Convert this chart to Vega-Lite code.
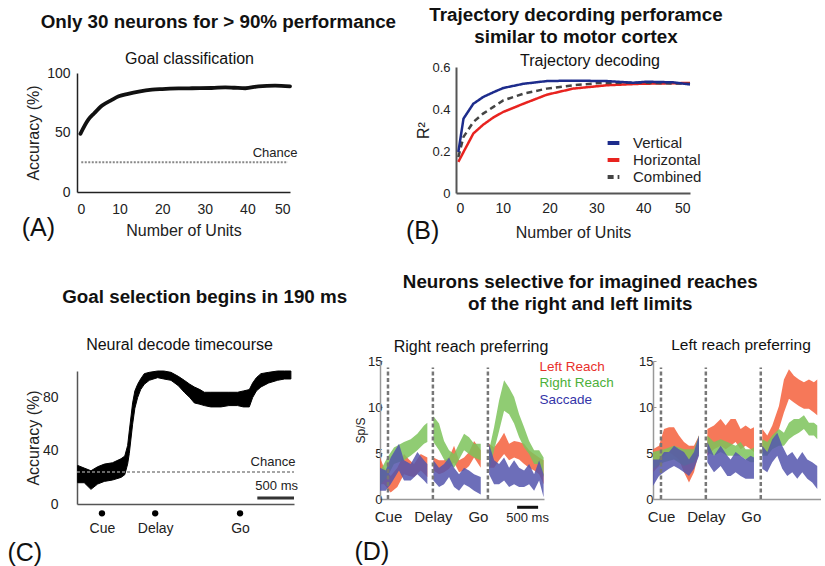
{
  "$schema": "https://vega.github.io/schema/vega-lite/v6.json",
  "padding": {"left": 7, "top": 6, "right": 0, "bottom": 0},
  "config": {
    "font": "Liberation Sans",
    "view": {"stroke": null},
    "axis": {"grid": false, "labelFont": "Liberation Sans", "titleFont": "Liberation Sans", "labelFontSize": 14, "titleFontSize": 16, "titleFontWeight": "normal", "labelColor": "#222", "titleColor": "#222", "domainColor": "#222", "tickColor": "#222", "labelOverlap": false},
    "title": {"font": "Liberation Sans", "color": "#111"},
    "legend": {"labelFont": "Liberation Sans", "padding": 0}
  },
  "datasets": {
    "dev": [{"t": 190}, {"t": 1258}, {"t": 2566}],
    "dband": [
      {"p":"R","c":"Left Reach","s":1,"t":0,"lo":1.6,"hi":4.5},
      {"p":"R","c":"Left Reach","s":1,"t":95,"lo":1.6,"hi":3.4},
      {"p":"R","c":"Left Reach","s":1,"t":254,"lo":0.7,"hi":2.5},
      {"p":"R","c":"Left Reach","s":1,"t":412,"lo":1.3,"hi":3.4},
      {"p":"R","c":"Left Reach","s":1,"t":571,"lo":2.7,"hi":4.9},
      {"p":"R","c":"Left Reach","s":1,"t":690,"lo":2.5,"hi":4.3},
      {"p":"R","c":"Left Reach","s":1,"t":809,"lo":2.4,"hi":3.8},
      {"p":"R","c":"Left Reach","s":1,"t":968,"lo":3.1,"hi":4.9},
      {"p":"R","c":"Left Reach","s":1,"t":1126,"lo":2.4,"hi":4.5},
      {"p":"R","c":"Left Reach","s":2,"t":1270,"lo":3.1,"hi":4.5},
      {"p":"R","c":"Left Reach","s":2,"t":1404,"lo":2.7,"hi":4.2},
      {"p":"R","c":"Left Reach","s":2,"t":1523,"lo":2.9,"hi":4.2},
      {"p":"R","c":"Left Reach","s":2,"t":1642,"lo":3.3,"hi":4.5},
      {"p":"R","c":"Left Reach","s":2,"t":1761,"lo":4.0,"hi":5.8},
      {"p":"R","c":"Left Reach","s":2,"t":1880,"lo":2.9,"hi":4.2},
      {"p":"R","c":"Left Reach","s":2,"t":1999,"lo":3.1,"hi":4.5},
      {"p":"R","c":"Left Reach","s":2,"t":2118,"lo":3.6,"hi":5.1},
      {"p":"R","c":"Left Reach","s":2,"t":2237,"lo":4.5,"hi":6.3},
      {"p":"R","c":"Left Reach","s":2,"t":2396,"lo":3.4,"hi":5.3},
      {"p":"R","c":"Left Reach","s":3,"t":2594,"lo":3.4,"hi":6.0},
      {"p":"R","c":"Left Reach","s":3,"t":2713,"lo":3.4,"hi":5.6},
      {"p":"R","c":"Left Reach","s":3,"t":2832,"lo":4.2,"hi":6.3},
      {"p":"R","c":"Left Reach","s":3,"t":2951,"lo":4.9,"hi":7.2},
      {"p":"R","c":"Left Reach","s":3,"t":3070,"lo":4.2,"hi":6.0},
      {"p":"R","c":"Left Reach","s":3,"t":3189,"lo":4.5,"hi":6.3},
      {"p":"R","c":"Left Reach","s":3,"t":3308,"lo":4.3,"hi":6.2},
      {"p":"R","c":"Left Reach","s":3,"t":3427,"lo":3.8,"hi":6.0},
      {"p":"R","c":"Left Reach","s":3,"t":3546,"lo":3.4,"hi":5.3},
      {"p":"R","c":"Left Reach","s":3,"t":3665,"lo":3.1,"hi":4.9},
      {"p":"R","c":"Left Reach","s":3,"t":3784,"lo":2.7,"hi":4.5},
      {"p":"R","c":"Left Reach","s":3,"t":3890,"lo":1.6,"hi":4.2},
      {"p":"R","c":"Right Reach","s":1,"t":0,"lo":1.5,"hi":3.0},
      {"p":"R","c":"Right Reach","s":1,"t":174,"lo":2.4,"hi":4.5},
      {"p":"R","c":"Right Reach","s":1,"t":333,"lo":3.8,"hi":5.6},
      {"p":"R","c":"Right Reach","s":1,"t":571,"lo":4.2,"hi":6.2},
      {"p":"R","c":"Right Reach","s":1,"t":730,"lo":4.7,"hi":6.5},
      {"p":"R","c":"Right Reach","s":1,"t":888,"lo":5.3,"hi":7.1},
      {"p":"R","c":"Right Reach","s":1,"t":1047,"lo":6.0,"hi":8.0},
      {"p":"R","c":"Right Reach","s":1,"t":1126,"lo":6.2,"hi":8.3},
      {"p":"R","c":"Right Reach","s":2,"t":1270,"lo":6.2,"hi":9.0},
      {"p":"R","c":"Right Reach","s":2,"t":1404,"lo":5.3,"hi":8.2},
      {"p":"R","c":"Right Reach","s":2,"t":1523,"lo":4.3,"hi":6.3},
      {"p":"R","c":"Right Reach","s":2,"t":1642,"lo":3.8,"hi":5.3},
      {"p":"R","c":"Right Reach","s":2,"t":1761,"lo":3.4,"hi":4.9},
      {"p":"R","c":"Right Reach","s":2,"t":1880,"lo":4.3,"hi":6.0},
      {"p":"R","c":"Right Reach","s":2,"t":1999,"lo":5.3,"hi":7.1},
      {"p":"R","c":"Right Reach","s":2,"t":2118,"lo":4.9,"hi":6.7},
      {"p":"R","c":"Right Reach","s":2,"t":2237,"lo":4.5,"hi":6.0},
      {"p":"R","c":"Right Reach","s":2,"t":2396,"lo":4.2,"hi":6.0},
      {"p":"R","c":"Right Reach","s":3,"t":2594,"lo":3.1,"hi":5.3},
      {"p":"R","c":"Right Reach","s":3,"t":2713,"lo":5.3,"hi":7.8},
      {"p":"R","c":"Right Reach","s":3,"t":2832,"lo":7.4,"hi":10.7},
      {"p":"R","c":"Right Reach","s":3,"t":2951,"lo":9.6,"hi":12.9},
      {"p":"R","c":"Right Reach","s":3,"t":3070,"lo":9.2,"hi":12.1},
      {"p":"R","c":"Right Reach","s":3,"t":3189,"lo":8.2,"hi":11.1},
      {"p":"R","c":"Right Reach","s":3,"t":3308,"lo":6.7,"hi":9.2},
      {"p":"R","c":"Right Reach","s":3,"t":3427,"lo":5.6,"hi":7.8},
      {"p":"R","c":"Right Reach","s":3,"t":3546,"lo":4.9,"hi":6.3},
      {"p":"R","c":"Right Reach","s":3,"t":3665,"lo":3.8,"hi":5.3},
      {"p":"R","c":"Right Reach","s":3,"t":3784,"lo":3.8,"hi":5.3},
      {"p":"R","c":"Right Reach","s":3,"t":3890,"lo":2.4,"hi":4.5},
      {"p":"R","c":"Saccade","s":1,"t":0,"lo":0.9,"hi":3.4},
      {"p":"R","c":"Saccade","s":1,"t":135,"lo":0.9,"hi":3.1},
      {"p":"R","c":"Saccade","s":1,"t":254,"lo":1.6,"hi":4.5},
      {"p":"R","c":"Saccade","s":1,"t":452,"lo":3.1,"hi":6.0},
      {"p":"R","c":"Saccade","s":1,"t":571,"lo":2.0,"hi":4.2},
      {"p":"R","c":"Saccade","s":1,"t":730,"lo":2.0,"hi":3.8},
      {"p":"R","c":"Saccade","s":1,"t":888,"lo":2.7,"hi":5.1},
      {"p":"R","c":"Saccade","s":1,"t":1047,"lo":2.0,"hi":4.2},
      {"p":"R","c":"Saccade","s":1,"t":1126,"lo":1.6,"hi":3.8},
      {"p":"R","c":"Saccade","s":2,"t":1270,"lo":2.0,"hi":4.2},
      {"p":"R","c":"Saccade","s":2,"t":1404,"lo":1.3,"hi":3.4},
      {"p":"R","c":"Saccade","s":2,"t":1523,"lo":1.6,"hi":3.8},
      {"p":"R","c":"Saccade","s":2,"t":1642,"lo":2.4,"hi":4.5},
      {"p":"R","c":"Saccade","s":2,"t":1761,"lo":1.3,"hi":3.4},
      {"p":"R","c":"Saccade","s":2,"t":1880,"lo":0.9,"hi":2.7},
      {"p":"R","c":"Saccade","s":2,"t":1999,"lo":1.6,"hi":3.4},
      {"p":"R","c":"Saccade","s":2,"t":2118,"lo":1.3,"hi":3.1},
      {"p":"R","c":"Saccade","s":2,"t":2237,"lo":0.9,"hi":2.7},
      {"p":"R","c":"Saccade","s":2,"t":2396,"lo":0.5,"hi":2.4},
      {"p":"R","c":"Saccade","s":3,"t":2594,"lo":2.7,"hi":6.0},
      {"p":"R","c":"Saccade","s":3,"t":2713,"lo":1.6,"hi":4.2},
      {"p":"R","c":"Saccade","s":3,"t":2832,"lo":1.6,"hi":3.8},
      {"p":"R","c":"Saccade","s":3,"t":2951,"lo":2.0,"hi":4.5},
      {"p":"R","c":"Saccade","s":3,"t":3070,"lo":1.3,"hi":3.4},
      {"p":"R","c":"Saccade","s":3,"t":3189,"lo":1.6,"hi":4.2},
      {"p":"R","c":"Saccade","s":3,"t":3308,"lo":1.3,"hi":3.4},
      {"p":"R","c":"Saccade","s":3,"t":3427,"lo":1.3,"hi":3.1},
      {"p":"R","c":"Saccade","s":3,"t":3546,"lo":1.6,"hi":3.8},
      {"p":"R","c":"Saccade","s":3,"t":3665,"lo":0.9,"hi":2.7},
      {"p":"R","c":"Saccade","s":3,"t":3784,"lo":2.0,"hi":4.2},
      {"p":"R","c":"Saccade","s":3,"t":3890,"lo":0.2,"hi":2.7},
      {"p":"L","c":"Left Reach","s":1,"t":0,"lo":2.9,"hi":5.4},
      {"p":"L","c":"Left Reach","s":1,"t":143,"lo":3.6,"hi":5.8},
      {"p":"L","c":"Left Reach","s":1,"t":262,"lo":4.7,"hi":7.6},
      {"p":"L","c":"Left Reach","s":1,"t":381,"lo":5.1,"hi":7.8},
      {"p":"L","c":"Left Reach","s":1,"t":500,"lo":4.7,"hi":7.8},
      {"p":"L","c":"Left Reach","s":1,"t":619,"lo":4.3,"hi":6.9},
      {"p":"L","c":"Left Reach","s":1,"t":738,"lo":2.9,"hi":6.2},
      {"p":"L","c":"Left Reach","s":1,"t":857,"lo":1.8,"hi":5.8},
      {"p":"L","c":"Left Reach","s":1,"t":976,"lo":2.9,"hi":5.8},
      {"p":"L","c":"Left Reach","s":1,"t":1095,"lo":5.1,"hi":6.9},
      {"p":"L","c":"Left Reach","s":2,"t":1294,"lo":4.7,"hi":7.6},
      {"p":"L","c":"Left Reach","s":2,"t":1452,"lo":5.4,"hi":8.0},
      {"p":"L","c":"Left Reach","s":2,"t":1611,"lo":5.8,"hi":8.7},
      {"p":"L","c":"Left Reach","s":2,"t":1730,"lo":5.4,"hi":8.0},
      {"p":"L","c":"Left Reach","s":2,"t":1849,"lo":5.8,"hi":8.7},
      {"p":"L","c":"Left Reach","s":2,"t":1967,"lo":6.2,"hi":8.7},
      {"p":"L","c":"Left Reach","s":2,"t":2086,"lo":5.4,"hi":7.6},
      {"p":"L","c":"Left Reach","s":2,"t":2205,"lo":5.8,"hi":8.0},
      {"p":"L","c":"Left Reach","s":2,"t":2324,"lo":5.4,"hi":7.6},
      {"p":"L","c":"Left Reach","s":2,"t":2404,"lo":5.1,"hi":7.8},
      {"p":"L","c":"Left Reach","s":3,"t":2602,"lo":5.1,"hi":7.6},
      {"p":"L","c":"Left Reach","s":3,"t":2721,"lo":4.7,"hi":6.9},
      {"p":"L","c":"Left Reach","s":3,"t":2840,"lo":6.2,"hi":8.0},
      {"p":"L","c":"Left Reach","s":3,"t":2999,"lo":7.6,"hi":10.1},
      {"p":"L","c":"Left Reach","s":3,"t":3118,"lo":9.4,"hi":13.0},
      {"p":"L","c":"Left Reach","s":3,"t":3237,"lo":10.9,"hi":14.1},
      {"p":"L","c":"Left Reach","s":3,"t":3356,"lo":10.5,"hi":13.4},
      {"p":"L","c":"Left Reach","s":3,"t":3475,"lo":10.1,"hi":13.0},
      {"p":"L","c":"Left Reach","s":3,"t":3594,"lo":9.8,"hi":12.7},
      {"p":"L","c":"Left Reach","s":3,"t":3713,"lo":9.8,"hi":13.0},
      {"p":"L","c":"Left Reach","s":3,"t":3832,"lo":9.4,"hi":12.7},
      {"p":"L","c":"Left Reach","s":3,"t":3911,"lo":9.1,"hi":13.0},
      {"p":"L","c":"Right Reach","s":1,"t":0,"lo":3.3,"hi":5.1},
      {"p":"L","c":"Right Reach","s":1,"t":262,"lo":4.0,"hi":5.4},
      {"p":"L","c":"Right Reach","s":1,"t":500,"lo":4.3,"hi":5.8},
      {"p":"L","c":"Right Reach","s":1,"t":738,"lo":3.6,"hi":5.4},
      {"p":"L","c":"Right Reach","s":1,"t":976,"lo":4.0,"hi":5.4},
      {"p":"L","c":"Right Reach","s":1,"t":1095,"lo":5.1,"hi":6.9},
      {"p":"L","c":"Right Reach","s":2,"t":1294,"lo":5.1,"hi":6.9},
      {"p":"L","c":"Right Reach","s":2,"t":1452,"lo":4.7,"hi":6.2},
      {"p":"L","c":"Right Reach","s":2,"t":1611,"lo":5.1,"hi":6.5},
      {"p":"L","c":"Right Reach","s":2,"t":1770,"lo":4.7,"hi":6.2},
      {"p":"L","c":"Right Reach","s":2,"t":1967,"lo":4.7,"hi":5.8},
      {"p":"L","c":"Right Reach","s":2,"t":2086,"lo":4.7,"hi":6.2},
      {"p":"L","c":"Right Reach","s":2,"t":2205,"lo":4.3,"hi":5.4},
      {"p":"L","c":"Right Reach","s":2,"t":2324,"lo":4.0,"hi":5.4},
      {"p":"L","c":"Right Reach","s":2,"t":2404,"lo":4.0,"hi":5.6},
      {"p":"L","c":"Right Reach","s":3,"t":2602,"lo":4.7,"hi":6.5},
      {"p":"L","c":"Right Reach","s":3,"t":2721,"lo":4.7,"hi":6.2},
      {"p":"L","c":"Right Reach","s":3,"t":2840,"lo":5.4,"hi":6.9},
      {"p":"L","c":"Right Reach","s":3,"t":2999,"lo":5.8,"hi":7.6},
      {"p":"L","c":"Right Reach","s":3,"t":3118,"lo":5.8,"hi":7.2},
      {"p":"L","c":"Right Reach","s":3,"t":3237,"lo":6.5,"hi":8.3},
      {"p":"L","c":"Right Reach","s":3,"t":3356,"lo":6.9,"hi":8.7},
      {"p":"L","c":"Right Reach","s":3,"t":3475,"lo":7.2,"hi":8.7},
      {"p":"L","c":"Right Reach","s":3,"t":3594,"lo":7.6,"hi":9.1},
      {"p":"L","c":"Right Reach","s":3,"t":3713,"lo":6.9,"hi":8.3},
      {"p":"L","c":"Right Reach","s":3,"t":3832,"lo":6.9,"hi":8.3},
      {"p":"L","c":"Right Reach","s":3,"t":3911,"lo":6.5,"hi":8.0},
      {"p":"L","c":"Saccade","s":1,"t":0,"lo":1.4,"hi":4.3},
      {"p":"L","c":"Saccade","s":1,"t":143,"lo":2.5,"hi":4.3},
      {"p":"L","c":"Saccade","s":1,"t":262,"lo":2.9,"hi":5.1},
      {"p":"L","c":"Saccade","s":1,"t":381,"lo":3.3,"hi":5.1},
      {"p":"L","c":"Saccade","s":1,"t":500,"lo":3.6,"hi":5.8},
      {"p":"L","c":"Saccade","s":1,"t":619,"lo":3.3,"hi":5.4},
      {"p":"L","c":"Saccade","s":1,"t":738,"lo":2.9,"hi":5.1},
      {"p":"L","c":"Saccade","s":1,"t":857,"lo":2.5,"hi":4.3},
      {"p":"L","c":"Saccade","s":1,"t":976,"lo":3.3,"hi":5.1},
      {"p":"L","c":"Saccade","s":1,"t":1095,"lo":4.7,"hi":6.9},
      {"p":"L","c":"Saccade","s":2,"t":1294,"lo":4.0,"hi":6.2},
      {"p":"L","c":"Saccade","s":2,"t":1452,"lo":2.9,"hi":4.7},
      {"p":"L","c":"Saccade","s":2,"t":1611,"lo":3.6,"hi":5.8},
      {"p":"L","c":"Saccade","s":2,"t":1770,"lo":2.5,"hi":4.7},
      {"p":"L","c":"Saccade","s":2,"t":1848,"lo":2.5,"hi":4.3},
      {"p":"L","c":"Saccade","s":2,"t":1967,"lo":2.9,"hi":5.1},
      {"p":"L","c":"Saccade","s":2,"t":2086,"lo":2.5,"hi":4.7},
      {"p":"L","c":"Saccade","s":2,"t":2205,"lo":2.2,"hi":4.3},
      {"p":"L","c":"Saccade","s":2,"t":2324,"lo":2.2,"hi":4.7},
      {"p":"L","c":"Saccade","s":2,"t":2404,"lo":2.2,"hi":4.5},
      {"p":"L","c":"Saccade","s":3,"t":2602,"lo":3.3,"hi":5.8},
      {"p":"L","c":"Saccade","s":3,"t":2721,"lo":2.9,"hi":5.1},
      {"p":"L","c":"Saccade","s":3,"t":2840,"lo":4.0,"hi":6.5},
      {"p":"L","c":"Saccade","s":3,"t":2959,"lo":4.7,"hi":7.2},
      {"p":"L","c":"Saccade","s":3,"t":3078,"lo":3.3,"hi":5.8},
      {"p":"L","c":"Saccade","s":3,"t":3197,"lo":2.5,"hi":4.7},
      {"p":"L","c":"Saccade","s":3,"t":3316,"lo":2.9,"hi":5.1},
      {"p":"L","c":"Saccade","s":3,"t":3435,"lo":2.2,"hi":4.3},
      {"p":"L","c":"Saccade","s":3,"t":3554,"lo":2.9,"hi":5.1},
      {"p":"L","c":"Saccade","s":3,"t":3673,"lo":2.2,"hi":4.3},
      {"p":"L","c":"Saccade","s":3,"t":3792,"lo":1.8,"hi":4.0},
      {"p":"L","c":"Saccade","s":3,"t":3911,"lo":1.1,"hi":3.6}
    ]
  },
  "spacing": 29,
  "align": "none",
  "resolve": {"scale": {"color": "independent", "strokeDash": "independent"}, "legend": {"color": "independent", "strokeDash": "independent"}},
  "vconcat": [
    {
      "spacing": 8,
      "align": "none",
      "resolve": {"scale": {"color": "independent", "strokeDash": "independent"}, "legend": {"color": "independent", "strokeDash": "independent"}},
      "hconcat": [
        {
          "title": {"text": "Only 30 neurons for > 90% performance", "fontSize": 18.8, "fontWeight": "bold", "anchor": "start", "dx": 19, "offset": 19},
          "spacing": -2,
          "vconcat": [
            {
              "width": 213, "height": 1,
              "title": {"text": "Goal classification", "fontSize": 16, "fontWeight": "normal", "offset": 0, "frame": "group", "dx": 6},
              "data": {"values": []},
              "mark": "point"
            },
            {
              "title": {"text": "(A)", "orient": "bottom", "anchor": "start", "fontSize": 25, "fontWeight": "normal", "dy": -26, "dx": -4},
              "vconcat": [
                {
                  "width": 213, "height": 119,
                  "layer": [
                    {
                      "data": {"values": [
                        {"n":0.8,"acc":48.9},{"n":2.7,"acc":61},{"n":4,"acc":66},{"n":5.9,"acc":72.6},{"n":8,"acc":77},{"n":9.8,"acc":80.4},{"n":12,"acc":82.5},{"n":14.5,"acc":84.4},{"n":17.6,"acc":86},{"n":20,"acc":86.5},{"n":23.8,"acc":87},{"n":27,"acc":87.2},{"n":31.6,"acc":87.4},{"n":34.8,"acc":88},{"n":37,"acc":87.6},{"n":39.5,"acc":87.2},{"n":42.6,"acc":88.8},{"n":46.5,"acc":89.4},{"n":50,"acc":88.8}
                      ]},
                      "mark": {"type": "line", "color": "#111", "strokeWidth": 3.8, "strokeCap": "round", "interpolate": "monotone"},
                      "encoding": {
                        "x": {"field": "n", "type": "quantitative", "scale": {"domain": [0, 50], "nice": false}, "axis": {"values": [0,10,20,30,40,50], "title": "Number of Units", "ticks": false, "labelPadding": 10, "domainWidth": 1.5, "titlePadding": 6, "labelOverlap": false}},
                        "y": {"field": "acc", "type": "quantitative", "scale": {"domain": [0, 100], "nice": false}, "axis": {"values": [0,50,100], "title": "Accuracy (%)", "ticks": false, "labelPadding": 7, "domainWidth": 1.5, "titlePadding": 5, "labelOverlap": false}}
                      }
                    },
                    {
                      "data": {"values": [{"a": 1, "b": 49.5, "v": 25}]},
                      "mark": {"type": "rule", "color": "#888", "strokeDash": [2, 1.5], "strokeWidth": 2},
                      "encoding": {"x": {"field": "a", "type": "quantitative"}, "x2": {"field": "b"}, "y": {"field": "v", "type": "quantitative"}}
                    },
                    {
                      "data": {"values": [{"n": 46.5, "v": 27, "txt": "Chance"}]},
                      "mark": {"type": "text", "fontSize": 13, "baseline": "bottom", "color": "#222"},
                      "encoding": {"x": {"field": "n", "type": "quantitative"}, "y": {"field": "v", "type": "quantitative"}, "text": {"field": "txt"}}
                    }
                  ]
                }
              ]
            }
          ]
        },
        {
          "title": {"text": ["Trajectory decording perforamce", "similar to motor cortex"], "fontSize": 18.8, "fontWeight": "bold", "anchor": "middle", "dx": 22, "lineHeight": 22, "offset": 5.5},
          "resolve": {"scale": {"color": "independent", "strokeDash": "independent"}, "legend": {"color": "independent", "strokeDash": "independent"}},
          "vconcat": [
            {
              "title": {"text": "(B)", "orient": "bottom", "anchor": "start", "fontSize": 25, "fontWeight": "normal", "dy": -25, "dx": -10},
              "resolve": {"scale": {"color": "independent", "strokeDash": "independent"}, "legend": {"color": "independent", "strokeDash": "independent"}},
              "vconcat": [
                {
                  "width": 234, "height": 126,
                  "title": {"text": "Trajectory decoding", "fontSize": 16, "fontWeight": "normal", "offset": -7.5, "frame": "group", "dx": 17},
                  "data": {"values": [
                    {"s":"Horizontal","n":0.5,"r":0.148},{"s":"Horizontal","n":1.6,"r":0.195},{"s":"Horizontal","n":3.7,"r":0.283},{"s":"Horizontal","n":5.8,"r":0.325},{"s":"Horizontal","n":8,"r":0.36},{"s":"Horizontal","n":10.1,"r":0.386},{"s":"Horizontal","n":14.4,"r":0.425},{"s":"Horizontal","n":19.4,"r":0.468},{"s":"Horizontal","n":25,"r":0.497},{"s":"Horizontal","n":32.2,"r":0.513},{"s":"Horizontal","n":39.3,"r":0.52},{"s":"Horizontal","n":50,"r":0.524},
                    {"s":"Combined","n":0.5,"r":0.171},{"s":"Combined","n":1.6,"r":0.267},{"s":"Combined","n":3.7,"r":0.338},{"s":"Combined","n":5.8,"r":0.378},{"s":"Combined","n":8,"r":0.41},{"s":"Combined","n":10.1,"r":0.441},{"s":"Combined","n":14.4,"r":0.473},{"s":"Combined","n":19.4,"r":0.497},{"s":"Combined","n":25,"r":0.513},{"s":"Combined","n":30.8,"r":0.524},{"s":"Combined","n":40,"r":0.525},{"s":"Combined","n":50,"r":0.52},
                    {"s":"Vertical","n":0.5,"r":0.195},{"s":"Vertical","n":1.6,"r":0.354},{"s":"Vertical","n":3.7,"r":0.425},{"s":"Vertical","n":5.8,"r":0.457},{"s":"Vertical","n":8,"r":0.48},{"s":"Vertical","n":10.1,"r":0.5},{"s":"Vertical","n":14.4,"r":0.52},{"s":"Vertical","n":19.4,"r":0.533},{"s":"Vertical","n":25,"r":0.535},{"s":"Vertical","n":32.2,"r":0.533},{"s":"Vertical","n":37.9,"r":0.525},{"s":"Vertical","n":40.7,"r":0.53},{"s":"Vertical","n":46.4,"r":0.527},{"s":"Vertical","n":50,"r":0.517}
                  ]},
                  "mark": {"type": "line", "strokeWidth": 2.5},
                  "encoding": {
                    "x": {"field": "n", "type": "quantitative", "scale": {"domain": [0, 50], "nice": false}, "axis": {"values": [0,10,20,30,40,50], "title": "Number of Units", "ticks": false, "labelPadding": 8, "domainWidth": 2, "domainColor": "#555", "titlePadding": 9, "labelOverlap": false}},
                    "y": {"field": "r", "type": "quantitative", "scale": {"domain": [0, 0.6], "nice": false}, "axis": {"values": [0,0.2,0.4,0.6], "format": "~g", "title": "R²", "labelFontSize": 13, "ticks": false, "labelPadding": 6, "domainWidth": 2, "domainColor": "#555", "titlePadding": 0, "labelOverlap": false}},
                    "color": {"field": "s", "type": "nominal", "scale": {"domain": ["Vertical", "Horizontal", "Combined"], "range": ["#1d2c8c", "#e8231f", "#444444"]}, "legend": {"title": null, "orient": "none", "legendX": 149, "legendY": 67.5, "symbolType": "M-0.96,0H0.96", "symbolSize": 150, "symbolStrokeWidth": 4, "labelFontSize": 15, "labelColor": "#222", "rowPadding": 0, "labelOffset": 11}},
                    "strokeDash": {"field": "s", "type": "nominal", "scale": {"domain": ["Vertical", "Horizontal", "Combined"], "range": [[1, 0], [1, 0], [6, 4]]}, "legend": {"title": null, "orient": "none", "legendX": 149, "legendY": 67.5, "symbolType": "M-0.96,0H0.96", "symbolSize": 150, "symbolStrokeWidth": 4, "labelFontSize": 15, "labelColor": "#222", "rowPadding": 0, "labelOffset": 11}}
                  }
                }
              ]
            }
          ]
        }
      ]
    },
    {
      "spacing": 6,
      "align": "none",
      "resolve": {"scale": {"color": "independent", "strokeDash": "independent"}, "legend": {"color": "independent", "strokeDash": "independent"}},
      "hconcat": [
        {
          "title": {"text": "Goal selection begins in 190 ms", "fontSize": 18.8, "fontWeight": "bold", "anchor": "middle", "dx": 52, "offset": 30.5},
          "spacing": 7,
          "vconcat": [
            {
              "width": 217, "height": 1,
              "title": {"text": "Neural decode timecourse", "fontSize": 16, "fontWeight": "normal", "offset": 8, "frame": "group", "dx": -6},
              "data": {"values": []},
              "mark": "point"
            },
            {
              "title": {"text": "(C)", "orient": "bottom", "anchor": "start", "fontSize": 25, "fontWeight": "normal", "dy": 2, "dx": -18},
              "vconcat": [
                {
                  "width": 217, "height": 133,
                  "layer": [
                    {
                      "data": {"values": [
                        {"t":9,"lo":16,"hi":29},{"t":100,"lo":16,"hi":27},{"t":193,"lo":11,"hi":25},{"t":285,"lo":15,"hi":28},{"t":378,"lo":17,"hi":30},{"t":490,"lo":18,"hi":31},{"t":608,"lo":20,"hi":34},{"t":660,"lo":22,"hi":36},{"t":700,"lo":30,"hi":44},{"t":723,"lo":38,"hi":55},{"t":769,"lo":60,"hi":76},{"t":800,"lo":72,"hi":85},{"t":838,"lo":80,"hi":90},{"t":880,"lo":86,"hi":94},{"t":930,"lo":90,"hi":98},{"t":1000,"lo":93,"hi":99},{"t":1115,"lo":95,"hi":100},{"t":1200,"lo":94,"hi":100},{"t":1299,"lo":93,"hi":99},{"t":1400,"lo":89,"hi":96},{"t":1483,"lo":84,"hi":93},{"t":1560,"lo":80,"hi":90},{"t":1622,"lo":76,"hi":88},{"t":1700,"lo":75,"hi":86},{"t":1760,"lo":74,"hi":84},{"t":1850,"lo":73,"hi":84},{"t":1990,"lo":73,"hi":84},{"t":2100,"lo":74,"hi":84},{"t":2220,"lo":74,"hi":84},{"t":2300,"lo":73,"hi":85},{"t":2382,"lo":73,"hi":86},{"t":2428,"lo":80,"hi":91},{"t":2480,"lo":85,"hi":95},{"t":2543,"lo":88,"hi":98},{"t":2650,"lo":91,"hi":99},{"t":2773,"lo":93,"hi":100},{"t":2870,"lo":94,"hi":100},{"t":2957,"lo":94,"hi":100}
                      ]},
                      "mark": {"type": "area", "color": "#000", "stroke": "#000", "strokeWidth": 1},
                      "encoding": {
                        "x": {"field": "t", "type": "quantitative", "scale": {"domain": [0, 3000], "nice": false}, "axis": {"values": [345, 1081, 2254], "labelExpr": "datum.value < 600 ? 'Cue' : datum.value < 1500 ? 'Delay' : 'Go'", "ticks": false, "title": null, "labelPadding": 17, "labelFlush": false, "labelOverlap": false, "domainWidth": 1.5, "domainColor": "#555"}},
                        "y": {"field": "hi", "type": "quantitative", "scale": {"domain": [0, 100], "nice": false}, "axis": {"values": [0,20,40,60,80,100], "title": "Accuracy (%)", "ticks": false, "labelPadding": 19, "labelOverlap": false, "labelFlush": false, "domainWidth": 1.5, "domainColor": "#555", "titlePadding": 1}},
                        "y2": {"field": "lo"}
                      }
                    },
                    {
                      "data": {"values": [{"a": 0, "b": 3000, "v": 24}]},
                      "mark": {"type": "rule", "color": "#888", "strokeDash": [3, 2], "strokeWidth": 1.5},
                      "encoding": {"x": {"field": "a", "type": "quantitative"}, "x2": {"field": "b"}, "y": {"field": "v", "type": "quantitative"}}
                    },
                    {
                      "data": {"values": [{"a": 2493, "b": 3000, "v": 4.5}]},
                      "mark": {"type": "rule", "color": "#333", "strokeWidth": 3},
                      "encoding": {"x": {"field": "a", "type": "quantitative"}, "x2": {"field": "b"}, "y": {"field": "v", "type": "quantitative"}}
                    },
                    {
                      "data": {"values": [{"t": 2710, "v": 26.5, "txt": "Chance"}, {"t": 2760, "v": 8, "txt": "500 ms"}]},
                      "mark": {"type": "text", "fontSize": 13, "baseline": "bottom", "color": "#222"},
                      "encoding": {"x": {"field": "t", "type": "quantitative"}, "y": {"field": "v", "type": "quantitative"}, "text": {"field": "txt"}}
                    },
                    {
                      "data": {"values": [{"t": 345, "v": -7}, {"t": 1081, "v": -7}, {"t": 2254, "v": -7}]},
                      "mark": {"type": "point", "shape": "circle", "filled": true, "color": "#000", "size": 40, "opacity": 1},
                      "encoding": {"x": {"field": "t", "type": "quantitative"}, "y": {"field": "v", "type": "quantitative"}}
                    }
                  ]
                }
              ]
            }
          ]
        },
        {
          "title": {"text": ["Neurons selective for imagined reaches", "of the right and left limits"], "fontSize": 18.8, "fontWeight": "bold", "anchor": "middle", "dx": -7.5, "lineHeight": 22, "offset": 23.5},
          "resolve": {"scale": {"color": "independent", "strokeDash": "independent"}, "legend": {"color": "independent", "strokeDash": "independent"}},
          "vconcat": [
            {
              "title": {"text": "(D)", "orient": "bottom", "anchor": "start", "fontSize": 25, "fontWeight": "normal", "dy": 11, "dx": 0},
              "spacing": 24,
              "resolve": {"scale": {"color": "independent", "strokeDash": "independent"}, "legend": {"color": "independent", "strokeDash": "independent"}},
              "hconcat": [
                {
                  "width": 164, "height": 138,
                  "title": {"text": "Right reach preferring", "fontSize": 16, "fontWeight": "normal", "offset": 0, "frame": "group", "dx": 9},
                  "layer": [
                    {
                      "data": {"name": "dband"},
                      "transform": [{"filter": "datum.p == 'R'"}],
                      "mark": {"type": "area", "opacity": 0.85},
                      "encoding": {
                        "x": {"field": "t", "type": "quantitative", "scale": {"domain": [0, 3900], "nice": false}, "axis": {"values": [190, 1258, 2566], "labelExpr": "datum.value < 600 ? 'Cue' : datum.value < 2000 ? 'Delay' : 'Go'", "ticks": false, "title": null, "labelFontSize": 15, "labelPadding": 10, "labelFlush": false, "labelOverlap": false, "domainWidth": 1.5, "domainColor": "#999", "labelOffset": {"condition": {"test": "datum.value > 2000", "value": -10}, "value": 0}}},
                        "y": {"field": "hi", "type": "quantitative", "scale": {"domain": [0, 15], "nice": false}, "axis": {"values": [0,5,10,15], "title": "Sp/S", "titleFontSize": 12, "labelFontSize": 13, "tickSize": -2, "labelPadding": 0, "labelOverlap": false, "domainWidth": 1.5, "domainColor": "#999", "tickColor": "#999", "titlePadding": 0}},
                        "y2": {"field": "lo"},
                        "color": {"field": "c", "type": "nominal", "scale": {"domain": ["Left Reach", "Right Reach", "Saccade"], "range": ["#f4603c", "#7cc35a", "#5355ad"]}, "legend": {"title": null, "orient": "none", "legendX": 146, "legendY": -1, "symbolSize": 0, "symbolOpacity": 0, "symbolStrokeWidth": 0, "labelOffset": 0, "labelFontSize": 13.5, "rowPadding": 1.5, "encode": {"labels": {"update": {"fill": {"signal": "datum.label === 'Left Reach' ? '#e8302c' : datum.label === 'Right Reach' ? '#4cb03a' : '#3434a8'"}}}}}},
                        "detail": {"field": "s"}
                      }
                    },
                    {
                      "data": {"name": "dev"},
                      "mark": {"type": "rule", "color": "#777", "strokeWidth": 2.5, "strokeDash": [4, 2.5]},
                      "encoding": {"x": {"field": "t", "type": "quantitative"}, "y": {"datum": 0}, "y2": {"datum": 14.3}}
                    },
                    {
                      "data": {"values": [{"a": 3261, "b": 3760, "v": -0.9}]},
                      "mark": {"type": "rule", "color": "#111", "strokeWidth": 3},
                      "encoding": {"x": {"field": "a", "type": "quantitative"}, "x2": {"field": "b"}, "y": {"field": "v", "type": "quantitative"}}
                    },
                    {
                      "data": {"values": [{"t": 3510, "v": -2.1, "txt": "500 ms"}]},
                      "mark": {"type": "text", "fontSize": 13, "baseline": "middle", "color": "#222"},
                      "encoding": {"x": {"field": "t", "type": "quantitative"}, "y": {"field": "v", "type": "quantitative"}, "text": {"field": "txt"}}
                    }
                  ]
                },
                {
                  "width": 168, "height": 138,
                  "title": {"text": "Left reach preferring", "fontSize": 15.5, "fontWeight": "normal", "offset": 2, "frame": "group", "dx": 4},
                  "layer": [
                    {
                      "data": {"name": "dband"},
                      "transform": [{"filter": "datum.p == 'L'"}],
                      "mark": {"type": "area", "opacity": 0.85},
                      "encoding": {
                        "x": {"field": "t", "type": "quantitative", "scale": {"domain": [0, 4000], "nice": false}, "axis": {"values": [190, 1258, 2566], "labelExpr": "datum.value < 600 ? 'Cue' : datum.value < 2000 ? 'Delay' : 'Go'", "ticks": false, "title": null, "labelFontSize": 15, "labelPadding": 10, "labelFlush": false, "labelOverlap": false, "domainWidth": 1.5, "domainColor": "#999", "labelOffset": {"condition": {"test": "datum.value > 2000", "value": -10}, "value": 0}}},
                        "y": {"field": "hi", "type": "quantitative", "scale": {"domain": [0, 15], "nice": false}, "axis": {"values": [0,5,10,15], "title": null, "labelFontSize": 13, "tickSize": -3, "labelPadding": 3, "labelOverlap": false, "domainWidth": 1.5, "domainColor": "#999", "tickColor": "#999"}},
                        "y2": {"field": "lo"},
                        "color": {"field": "c", "type": "nominal", "scale": {"domain": ["Left Reach", "Right Reach", "Saccade"], "range": ["#f4603c", "#7cc35a", "#5355ad"]}, "legend": null},
                        "detail": {"field": "s"}
                      }
                    },
                    {
                      "data": {"name": "dev"},
                      "mark": {"type": "rule", "color": "#777", "strokeWidth": 2.5, "strokeDash": [4, 2.5]},
                      "encoding": {"x": {"field": "t", "type": "quantitative"}, "y": {"datum": 0}, "y2": {"datum": 14.3}}
                    }
                  ]
                }
              ]
            }
          ]
        }
      ]
    }
  ]
}
